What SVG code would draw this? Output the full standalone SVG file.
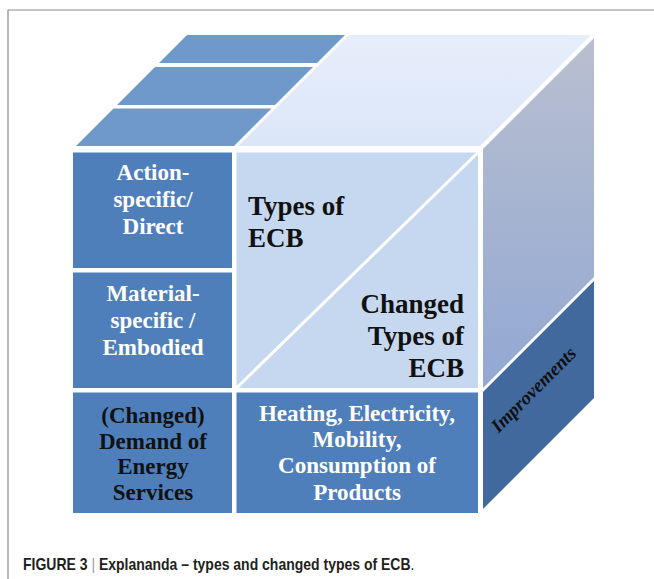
<svg xmlns="http://www.w3.org/2000/svg" width="654" height="579" viewBox="0 0 654 579">
<defs>
<linearGradient id="gTop" x1="0" y1="0" x2="0" y2="1"><stop offset="0" stop-color="#E7EEFB"/><stop offset="1" stop-color="#DBE6F8"/></linearGradient>
<linearGradient id="gSide" x1="0" y1="0" x2="0" y2="1"><stop offset="0" stop-color="#B9BFCF"/><stop offset="1" stop-color="#92A8D3"/></linearGradient>
<style>
.mid{fill:#4F7FBA}
.strip{fill:#6F99CA}
.wt{font-family:"Liberation Serif","Times New Roman",serif;font-weight:bold;font-size:23px;fill:#FFFFFF;text-anchor:middle}
.bk{font-family:"Liberation Serif","Times New Roman",serif;font-weight:bold;font-size:23px;fill:#111111;text-anchor:middle}
.big{font-family:"Liberation Serif","Times New Roman",serif;font-weight:bold;font-size:27px;fill:#111111}
.cap{font-family:"Liberation Sans",Arial,sans-serif;font-size:16px;fill:#231F20}
</style>
</defs>
<rect width="654" height="579" fill="#FFFFFF"/>
<path d="M8 579 V10 H654" fill="none" stroke="#8A8A8A" stroke-width="1.2"/>
<g id="top-strips">
<polygon class="strip" points="187,35 345,35 317,63 159,63"/>
<polygon class="strip" points="155,67 313,67 275,105 117,105"/>
<polygon class="strip" points="113.5,108.5 271.5,108.5 234,146 76,146"/>
</g>
<g id="top-face">
<polygon fill="url(#gTop)" points="349,35 591,35 480,146 238,146"/>
</g>
<g id="side-upper">
<polygon fill="url(#gSide)" points="483,149 594,38 594,277 483,388"/>
</g>
<g id="improvements">
<polygon fill="#41699E" points="483,392 594,281 594,398 483,509"/>
<text transform="translate(538,394) rotate(-45)" text-anchor="middle" font-family="'Liberation Serif','Times New Roman',serif" font-weight="bold" font-style="italic" font-size="19" fill="#111111">Improvements</text>
</g>
<g id="action-specific">
<rect class="mid" x="73" y="152.5" width="159" height="115.5"/>
<text class="wt" x="153" y="180">Action-</text>
<text class="wt" x="153" y="207">specific/</text>
<text class="wt" x="153" y="234">Direct</text>
</g>
<g id="material-specific">
<rect class="mid" x="73" y="272.5" width="159" height="115.5"/>
<text class="wt" x="153" y="301">Material-</text>
<text class="wt" x="153" y="328">specific /</text>
<text class="wt" x="153" y="355">Embodied</text>
</g>
<g id="demand">
<rect class="mid" x="73" y="392.5" width="159" height="120.5"/>
<text class="bk" x="153" y="423">(Changed)</text>
<text class="bk" x="153" y="448.5">Demand of</text>
<text class="bk" x="153" y="474">Energy</text>
<text class="bk" x="153" y="500">Services</text>
</g>
<g id="types">
<rect fill="#C6D8EF" x="236.5" y="152.5" width="241.5" height="235.5"/>
<line x1="236.5" y1="388" x2="478" y2="152.5" stroke="#FFFFFF" stroke-width="3"/>
<text class="big" x="248" y="215">Types of</text>
<text class="big" x="248" y="247">ECB</text>
<text class="big" x="464" y="313" text-anchor="end">Changed</text>
<text class="big" x="464" y="345" text-anchor="end">Types of</text>
<text class="big" x="464" y="377" text-anchor="end">ECB</text>
</g>
<g id="heating">
<rect class="mid" x="236.5" y="392.5" width="241.5" height="120.5"/>
<text class="wt" x="357" y="421">Heating, Electricity,</text>
<text class="wt" x="357" y="447">Mobility,</text>
<text class="wt" x="357" y="473">Consumption of</text>
<text class="wt" x="357" y="500">Products</text>
</g>
<g id="connectors"></g>
<g id="caption">
<text class="cap" transform="translate(23,570) scale(0.875,1)"><tspan font-weight="bold">FIGURE 3</tspan><tspan fill="#9A9A9A"> | </tspan><tspan font-weight="bold">Explananda – types and changed types of ECB</tspan>.</text>
</g>
</svg>
